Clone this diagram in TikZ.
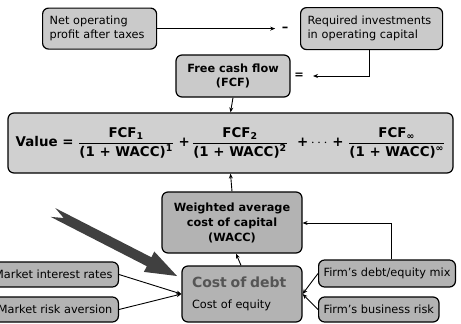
\documentclass[tikz,border=0pt]{standalone}
\usepackage{fontspec}
\setmainfont{DejaVu Sans}
\usetikzlibrary{arrows.meta}
\definecolor{lightbox}{HTML}{CACACA}
\definecolor{valbox}{HTML}{D0D0D0}
\definecolor{midbox}{HTML}{B3B3B3}
\definecolor{darkarrow}{HTML}{404040}
\definecolor{debtgray}{HTML}{555555}
\newcommand\vfr[2]{$\displaystyle\frac{\mbox{\bfseries #1}}{\mbox{\bfseries #2}}$}
\tikzset{
  box/.style={draw=black, line width=1.2pt, rounded corners=6pt, inner ysep=2pt,
    font=\fontsize{11.3}{14}\selectfont},
  conn/.style={line width=0.9pt, -{Stealth[length=5pt,width=4pt]}},
  sign/.style={font=\fontsize{11.3}{14}\selectfont\bfseries, inner sep=0pt}
}
\begin{document}
\begin{tikzpicture}[x=1pt,y=-1pt]
\useasboundingbox (0,0) rectangle (461,324);
\clip (0,0) rectangle (461,324);
% top row
\node[box, fill=lightbox, anchor=north west, minimum height=41pt, text width=100pt, inner xsep=7pt, align=left]
  (nopat) at (42,7.5) {Net operating\\profit after taxes};
\node[box, fill=lightbox, anchor=north west, minimum height=42pt, text width=128pt, inner xsep=7pt, align=left]
  (req) at (300,7) {Required investments\\in operating capital};
\node[sign] (minus) at (285,29) {\fontsize{13}{14}\selectfont –};
\node[box, fill=lightbox, minimum width=114pt, minimum height=42pt, align=center, font=\fontsize{11.3}{14}\selectfont\bfseries]
  (fcf) at (233,76) {Free cash flow\\(FCF)};
\node[sign] (eq) at (299,76) {=};
\coordinate (reqdown) at (369,76);
% value
\node[box, fill=valbox, minimum width=445pt, minimum height=60pt, inner xsep=2pt, font=\fontsize{13.4}{15}\selectfont\bfseries]
  (value) at (230.5,143) {Value =\ \vfr{FCF\textsubscript{1}}{(1 + WACC)\textsuperscript{1}}\ +\,\vfr{FCF\textsubscript{2}}{(1 + WACC)\textsuperscript{2}}\ \ +$\,\cdots$\ +\ \vfr{FCF\textsubscript{∞}}{(1 + WACC)\textsuperscript{∞}}};
% wacc
\node[box, fill=midbox, minimum width=140pt, minimum height=61pt, align=center, font=\fontsize{11.3}{15}\selectfont\bfseries]
  (wacc) at (232,222.5) {Weighted average\\cost of capital\\(WACC)};
% cost
\node[box, fill=midbox, minimum height=56pt, text width=100pt, inner xsep=10pt, align=left]
  (cost) at (242,294) {{\fontsize{14}{16}\selectfont\bfseries\color{debtgray}Cost of debt}\\[7pt]Cost of equity};
% side boxes
\node[box, fill=midbox, anchor=east, minimum height=25pt, inner xsep=6pt] (mir) at (119,274.5) {Market interest rates};
\node[box, fill=midbox, anchor=east, minimum height=25pt, inner xsep=6pt] (mra) at (119,309.5) {Market risk aversion};
\node[box, fill=midbox, anchor=west, minimum height=27pt, inner xsep=5pt] (fdm) at (318,273.5) {Firm’s debt/equity mix};
\node[box, fill=midbox, anchor=west, minimum height=25pt, inner xsep=5pt] (fbr) at (318,309.5) {Firm’s business risk};
\coordinate (fdmtop) at (391,223);
% connectors
\draw[conn] (nopat.east) -- ++(118,0) coordinate (nopatend);
\draw[conn] (req.south -| reqdown) -- (reqdown) -- ++(-56,0);
\draw[conn] (fcf.south) -- (value.north);
\draw[conn] (wacc.north) -- (value.south);
\draw[conn] ([xshift=-1pt]cost.north) -- ([xshift=4pt]wacc.south);
\draw[conn] (fdm.north -| fdmtop) -- (fdmtop) -- (wacc.east |- fdmtop);
\draw[conn] (mir.east) -- (cost.west);
\draw[conn] (mra.east) -- (cost.west);
\draw[conn] (fdm.west) -- (cost.east);
\draw[conn] (fbr.west) -- (cost.east);
% big arrow
\fill[darkarrow] (55.3,208.1) -- (151.4,257.3) -- (154.3,251.5) -- (177,276) -- (143.9,271.9) -- (146.8,266.2) -- (50.7,216.9) -- (63.7,218) -- cycle;
\end{tikzpicture}
\end{document}
